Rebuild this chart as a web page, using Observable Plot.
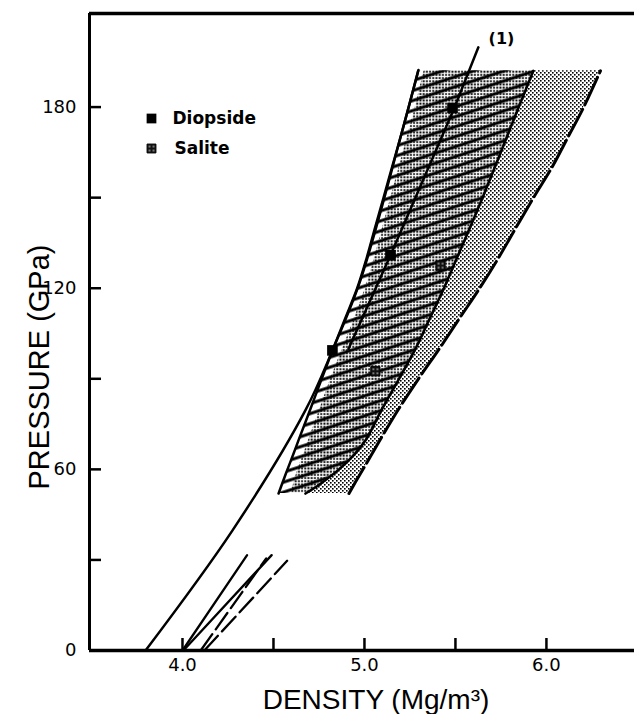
<!DOCTYPE html>
<html>
<head>
<meta charset="utf-8">
<script src="https://cdn.jsdelivr.net/npm/d3@7"></script>
<script src="https://cdn.jsdelivr.net/npm/@observablehq/plot@0.6"></script>
<style>
  html, body { margin: 0; padding: 0; background: #fff; }
  svg { display: block; }
</style>
</head>
<body>
<div id="chart"></div>
<script>
// ---- axes ----
const xDomain = [3.489, 6.484];
const yDomain = [0, 211];
const xTicks = [4.0, 4.5, 5.0, 5.5, 6.0];
const xTickLabels = [4.0, 5.0, 6.0];
const yTicks = [30, 60, 90, 120, 150, 180];
const yTickLabels = [0, 60, 120, 180];

// ---- shaded bands (density read at common pressure levels, GPa) ----
const bandP        = [52,    55,    60,    65,    70,    80,    90,    100,   110,   120,   130,   140,   150,   160,   170,   180,   192];
const hatchLeftD   = [4.528, 4.546, 4.577, 4.609, 4.640, 4.703, 4.765, 4.828, 4.894, 4.960, 5.012, 5.058, 5.105, 5.151, 5.198, 5.243, 5.295];
const dotLeftD     = [4.600, 4.610, 4.635, 4.665, 4.695, 4.755, 4.815, 4.880, 4.945, 5.005, 5.055, 5.100, 5.145, 5.190, 5.235, 5.280, 5.328];
const hatchRightD  = [4.676, 4.753, 4.860, 4.945, 5.010, 5.097, 5.190, 5.281, 5.359, 5.437, 5.508, 5.580, 5.649, 5.716, 5.782, 5.848, 5.928];
const dashedRightD = [4.915, 4.943, 4.992, 5.040, 5.088, 5.188, 5.297, 5.412, 5.522, 5.633, 5.736, 5.832, 5.929, 6.030, 6.118, 6.205, 6.297];

// ---- long solid curve ----
const longD = [3.797, 4.275, 4.676, 4.824, 4.978, 5.209, 5.297];
const longP = [0, 39.8, 79.6, 99.4, 122.7, 172.4, 192.3];

// ---- curve (1) ----
const oneD = [4.912, 5.143, 5.489, 5.626];
const oneP = [99.9, 130.9, 179.0, 199.8];
const oneLabel = "(1)";
const oneLabelD = 5.753;
const oneLabelP = 202.5;

// ---- low-pressure curves ----
const lowD = [[4.000, 4.355], [4.005, 4.490], [4.120, 4.575], [4.100, 4.460]];
const lowP = [[0, 31.6], [0, 31.6], [0, 29.7], [0, 30.5]];
const lowDashed = [false, false, true, true];

// ---- data points ----
const diopsideD = [4.824, 5.143, 5.484];
const diopsideP = [99.4, 130.9, 179.7];
const saliteD = [5.060, 5.418];
const saliteP = [92.5, 127.5];

// ---- text ----
const legendLabels = ["Diopside", "Salite"];
const xTitle = "DENSITY (Mg/m\u00B3)";
const yTitle = "PRESSURE (GPa)";

const W = 634, H = 714;
const mL = 89, mR = 0, mT = 13, mB = 64;
const frameW = W - mL - mR, frameH = H - mT - mB;
const tickLen = 12;

const idx = a => a.map((_, i) => i);

const lowMarks = lowD.map((dd, k) =>
  Plot.line(idx(dd), {
    x: i => dd[i], y: i => lowP[k][i],
    stroke: "#000", strokeWidth: 2.3,
    strokeDasharray: lowDashed[k] ? "20,6" : null
  })
);

const plot = Plot.plot({
  width: W, height: H,
  marginLeft: mL, marginRight: mR, marginTop: mT, marginBottom: mB,
  style: { background: "#fff", color: "#000", fontFamily: "DejaVu Sans", fontSize: "18px" },
  x: { domain: xDomain, ticks: xTickLabels, tickSize: 0, tickPadding: 8, tickFormat: d => d.toFixed(1), label: null },
  y: { domain: yDomain, ticks: yTickLabels, tickSize: 0, tickPadding: 13, label: null },
  marks: [
    // stippled band
    Plot.areaX(idx(bandP), { y: i => bandP[i], x1: i => hatchRightD[i], x2: i => dashedRightD[i], fill: "url(#stipple)", curve: "catmull-rom" }),
    // dense dots inside hatched band
    Plot.areaX(idx(bandP), { y: i => bandP[i], x1: i => dotLeftD[i], x2: i => hatchRightD[i], fill: "url(#dense)", curve: "catmull-rom" }),
    // diagonal hatching
    Plot.areaX(idx(bandP), { y: i => bandP[i], x1: i => hatchLeftD[i], x2: i => hatchRightD[i], fill: "url(#stripes)", curve: "catmull-rom" }),
    // band boundaries
    Plot.line(idx(bandP), { x: i => hatchRightD[i], y: i => bandP[i], stroke: "#000", strokeWidth: 2.6, curve: "catmull-rom" }),
    Plot.line(idx(bandP), { x: i => dashedRightD[i], y: i => bandP[i], stroke: "#000", strokeWidth: 3, strokeDasharray: "30,5", curve: "catmull-rom" }),
    Plot.line(idx(bandP), { x: i => hatchLeftD[i], y: i => bandP[i], stroke: "#000", strokeWidth: 2.5, curve: "catmull-rom" }),
    // long solid curve
    Plot.line(idx(longD), { x: i => longD[i], y: i => longP[i], stroke: "#000", strokeWidth: 2.5, curve: "catmull-rom" }),
    // curve (1)
    Plot.line(idx(oneD), { x: i => oneD[i], y: i => oneP[i], stroke: "#000", strokeWidth: 2.5 }),
    Plot.text([oneLabel], { x: oneLabelD, y: oneLabelP, text: d => d, fontSize: 16, fontWeight: "bold", fill: "#000" }),
    // low-pressure curves
    ...lowMarks,
    // data points
    Plot.dot(idx(diopsideD), { x: i => diopsideD[i], y: i => diopsideP[i], symbol: "square", r: 6, fill: "#000", stroke: "none" }),
    Plot.dot(idx(saliteD), { x: i => saliteD[i], y: i => saliteP[i], symbol: "square", r: 5.2, fill: "url(#salite)", stroke: "#000", strokeWidth: 1 }),
    // legend
    Plot.dot([0], { frameAnchor: "top-left", dx: 62, dy: 105, symbol: "square", r: 5.5, fill: "#000", stroke: "none" }),
    Plot.dot([0], { frameAnchor: "top-left", dx: 62, dy: 135, symbol: "square", r: 5, fill: "url(#salite)", stroke: "#000", strokeWidth: 1 }),
    Plot.text([legendLabels[0]], { frameAnchor: "top-left", dx: 83, dy: 105, text: d => d, textAnchor: "start", lineAnchor: "middle", fontSize: 17, fontWeight: 600, fill: "#000" }),
    Plot.text([legendLabels[1]], { frameAnchor: "top-left", dx: 85, dy: 135, text: d => d, textAnchor: "start", lineAnchor: "middle", fontSize: 17, fontWeight: 600, fill: "#000" }),
    // inward ticks
    Plot.tickX(xTicks, { x: d => d, insetTop: frameH - tickLen, stroke: "#000", strokeWidth: 2.5 }),
    Plot.tickY(yTicks, { y: d => d, insetRight: frameW - tickLen, stroke: "#000", strokeWidth: 2.5 }),
    // frame lines
    Plot.ruleX([xDomain[0]], { stroke: "#000", strokeWidth: 3 }),
    Plot.ruleY([yDomain[0]], { stroke: "#000", strokeWidth: 3.5 }),
    Plot.ruleY([yDomain[1]], { stroke: "#000", strokeWidth: 3.5 }),
    // axis titles
    Plot.text([xTitle], { frameAnchor: "bottom", dx: 14, dy: 50, text: d => d, textAnchor: "middle", lineAnchor: "middle", fontSize: 28, fontFamily: "Liberation Sans", fill: "#000" }),
    Plot.text([yTitle], { frameAnchor: "left", dx: -50, dy: 35, rotate: -90, text: d => d, textAnchor: "middle", lineAnchor: "middle", fontSize: 29, fontFamily: "Liberation Sans", fill: "#000" })
  ]
});

// SVG patterns used as fills
const svg = d3.select(plot);
const defs = svg.insert("defs", ":first-child");

const stripes = defs.append("pattern").attr("id", "stripes")
  .attr("patternUnits", "userSpaceOnUse").attr("width", 24).attr("height", 9.5)
  .attr("patternTransform", "rotate(-18)");
stripes.append("rect").attr("x", 0).attr("y", 3.2).attr("width", 24).attr("height", 3).attr("fill", "#000");

const dense = defs.append("pattern").attr("id", "dense")
  .attr("patternUnits", "userSpaceOnUse").attr("width", 3.2).attr("height", 3.2);
dense.append("rect").attr("width", 3.2).attr("height", 3.2).attr("fill", "#fff");
dense.append("rect").attr("x", 0.3).attr("y", 0.3).attr("width", 1.9).attr("height", 1.9).attr("fill", "#000");

const stipple = defs.append("pattern").attr("id", "stipple")
  .attr("patternUnits", "userSpaceOnUse").attr("width", 4).attr("height", 4);
stipple.append("rect").attr("width", 4).attr("height", 4).attr("fill", "#fff");
stipple.append("rect").attr("x", 0).attr("y", 0).attr("width", 1.6).attr("height", 1.6).attr("fill", "#000");
stipple.append("rect").attr("x", 2).attr("y", 2).attr("width", 1.6).attr("height", 1.6).attr("fill", "#000");

const salite = defs.append("pattern").attr("id", "salite")
  .attr("patternUnits", "userSpaceOnUse").attr("width", 4).attr("height", 4);
salite.append("rect").attr("width", 4).attr("height", 4).attr("fill", "#111");
salite.append("rect").attr("x", 1.4).attr("y", 1.4).attr("width", 1.3).attr("height", 1.3).attr("fill", "#fff");

document.getElementById("chart").appendChild(plot);
</script>
</body>
</html>
